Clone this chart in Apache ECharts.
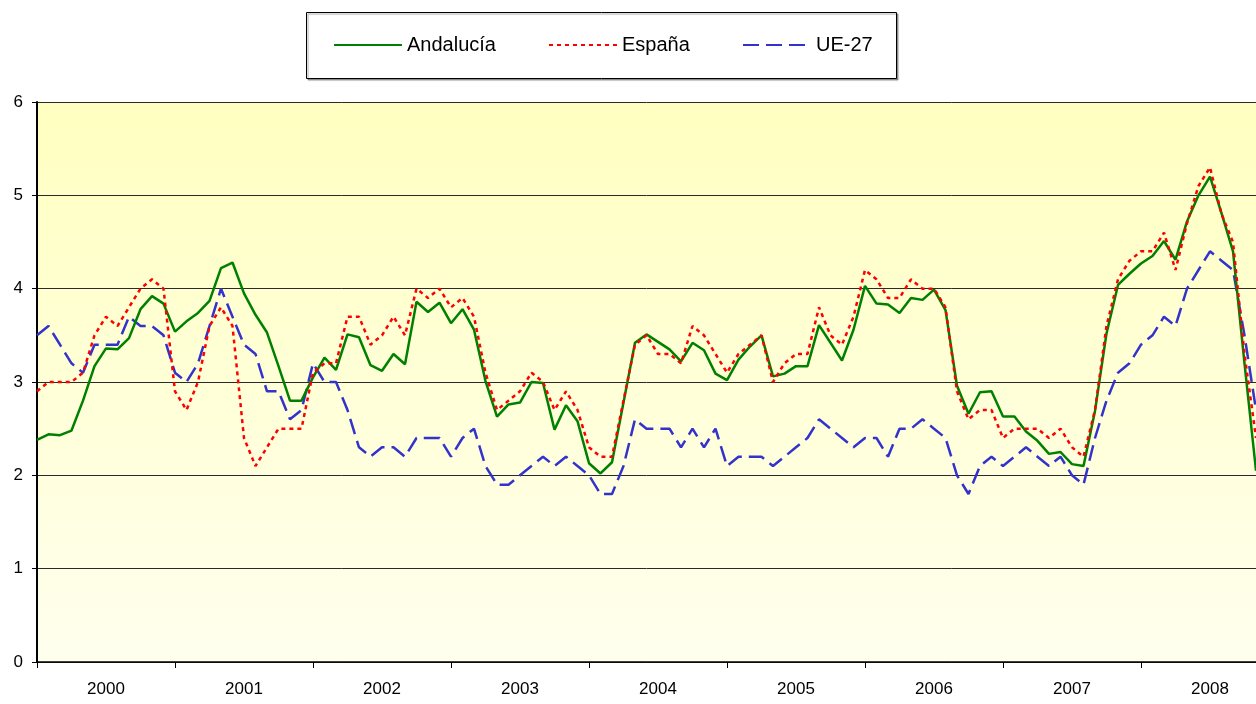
<!DOCTYPE html>
<html>
<head>
<meta charset="utf-8">
<script src="https://cdn.jsdelivr.net/npm/echarts@6/dist/echarts.min.js"></script>
<style>
html,body{margin:0;padding:0;background:#fff;}
#chart{width:1256px;height:704px;}
</style>
</head>
<body>
<div id="chart"></div>
<script>
// Monthly series, Jan 2000 .. Nov 2008
const years = ['2000','2001','2002','2003','2004','2005','2006','2007','2008'];
const monthsInLastYear = 11;
const yTicks = [0,1,2,3,4,5,6];

const andalucia = [
 2.38,2.44,2.43,2.48,2.80,3.17,3.36,3.35,3.47,3.78,3.92,3.84,
 3.54,3.65,3.74,3.87,4.22,4.28,3.95,3.72,3.53,3.17,2.80,2.80,
 3.05,3.26,3.13,3.51,3.48,3.18,3.12,3.30,3.19,3.86,3.75,3.85,
 3.63,3.78,3.56,3.01,2.63,2.76,2.78,3.00,2.99,2.49,2.75,2.58,
 2.13,2.02,2.14,2.78,3.42,3.51,3.43,3.35,3.22,3.42,3.34,3.09,
 3.02,3.24,3.38,3.50,3.06,3.09,3.17,3.17,3.61,3.42,3.23,3.56,
 4.03,3.84,3.83,3.74,3.90,3.88,3.99,3.77,2.96,2.66,2.89,2.90,
 2.63,2.63,2.47,2.37,2.23,2.25,2.12,2.10,2.69,3.52,4.04,4.16,
 4.27,4.35,4.51,4.31,4.72,5.00,5.20,4.81,4.40,3.20,2.05
];
const espana = [
 2.9,3.0,3.0,3.0,3.1,3.5,3.7,3.6,3.8,4.0,4.1,4.0,
 2.9,2.7,3.0,3.6,3.8,3.6,2.4,2.1,2.3,2.5,2.5,2.5,
 3.1,3.2,3.2,3.7,3.7,3.4,3.5,3.7,3.5,4.0,3.9,4.0,
 3.8,3.9,3.7,3.1,2.7,2.8,2.9,3.1,3.0,2.7,2.9,2.7,
 2.3,2.2,2.2,2.8,3.4,3.5,3.3,3.3,3.2,3.6,3.5,3.3,
 3.1,3.3,3.4,3.5,3.0,3.2,3.3,3.3,3.8,3.5,3.4,3.7,
 4.2,4.1,3.9,3.9,4.1,4.0,4.0,3.8,2.9,2.6,2.7,2.7,
 2.4,2.5,2.5,2.5,2.4,2.5,2.3,2.2,2.7,3.6,4.1,4.3,
 4.4,4.4,4.6,4.2,4.7,5.1,5.3,4.8,4.5,3.3,2.4
];
const ue27 = [
 3.5,3.6,3.4,3.2,3.1,3.4,3.4,3.4,3.7,3.6,3.6,3.5,
 3.1,3.0,3.2,3.6,4.0,3.7,3.4,3.3,2.9,2.9,2.6,2.7,
 3.2,3.0,3.0,2.7,2.3,2.2,2.3,2.3,2.2,2.4,2.4,2.4,
 2.2,2.4,2.5,2.1,1.9,1.9,2.0,2.1,2.2,2.1,2.2,2.1,
 2.0,1.8,1.8,2.1,2.6,2.5,2.5,2.5,2.3,2.5,2.3,2.5,
 2.1,2.2,2.2,2.2,2.1,2.2,2.3,2.4,2.6,2.5,2.4,2.3,
 2.4,2.4,2.2,2.5,2.5,2.6,2.5,2.4,2.0,1.8,2.1,2.2,
 2.1,2.2,2.3,2.2,2.1,2.2,2.0,1.9,2.4,2.8,3.1,3.2,
 3.4,3.5,3.7,3.6,4.0,4.2,4.4,4.3,4.2,3.5,2.7
];

const categories = [];
years.forEach((y, k) => {
  const n = (k === years.length - 1) ? monthsInLastYear : 12;
  for (let m = 1; m <= n; m++) categories.push(y + '-' + String(m).padStart(2,'0'));
});

const font = "'Liberation Sans', Arial, sans-serif";
const chart = echarts.init(document.getElementById('chart'), null, {renderer:'canvas'});

function legendFor(name, left) {
  return {
    data: [name], left: left, top: 35, padding: 0,
    itemWidth: 68, itemHeight: 14,
    itemStyle: {opacity: 0},
    textStyle: {fontSize: 20, color: '#000', fontFamily: font},
    selectedMode: false
  };
}

chart.setOption({
  animation: false,
  backgroundColor: '#fff',
  graphic: [{
    type: 'rect', left: 306, top: 12, z: -1,
    shape: {width: 590, height: 66},
    style: {fill: '#fff', stroke: '#000', lineWidth: 1,
            shadowColor: 'rgba(0,0,0,0.35)', shadowOffsetX: 1.5, shadowOffsetY: 1.5, shadowBlur: 1}
  }],
  legend: [
    legendFor('Andalucía', 333),
    legendFor('España', 548),
    legendFor('UE-27', 742)
  ],
  grid: {
    left: 37, right: 0, top: 102, bottom: 42, show: true, borderWidth: 0,
    backgroundColor: new echarts.graphic.LinearGradient(0, 0, 0, 1, [
      {offset: 0, color: '#FFFFC0'},
      {offset: 1, color: '#FFFFEE'}
    ])
  },
  xAxis: {
    type: 'category', data: categories, boundaryGap: false,
    axisLine: {lineStyle: {color: '#000', width: 1.5}},
    axisTick: {show: true, length: 6, interval: (i) => i % 12 === 0, lineStyle: {color: '#000'}},
    axisLabel: {interval: (i) => i % 12 === 6, formatter: (v) => v.slice(0,4),
                margin: 19, fontSize: 17, color: '#000', fontFamily: font},
    splitLine: {show: false}
  },
  yAxis: {
    type: 'value', min: yTicks[0], max: yTicks[yTicks.length-1], interval: 1,
    axisLine: {show: true, lineStyle: {color: '#000', width: 2}},
    axisTick: {show: true, length: 5, lineStyle: {color: '#000'}},
    axisLabel: {margin: 14, fontSize: 17, color: '#000', fontFamily: font},
    splitLine: {show: true, lineStyle: {color: '#2a2a2a', width: 1}}
  },
  series: [
    {name: 'Andalucía', type: 'line', data: andalucia, symbol: 'none',
     lineStyle: {color: '#008000', width: 2.5, type: 'solid'}, itemStyle: {color: '#008000'}, z: 3},
    {name: 'España', type: 'line', data: espana, symbol: 'none',
     lineStyle: {color: '#FF0000', width: 2.5, type: [4, 4]}, itemStyle: {color: '#FF0000'}, z: 4},
    {name: 'UE-27', type: 'line', data: ue27, symbol: 'none',
     lineStyle: {color: '#3333CC', width: 2.5, type: [16, 7]}, itemStyle: {color: '#3333CC'}, z: 2}
  ]
});
</script>
</body>
</html>
